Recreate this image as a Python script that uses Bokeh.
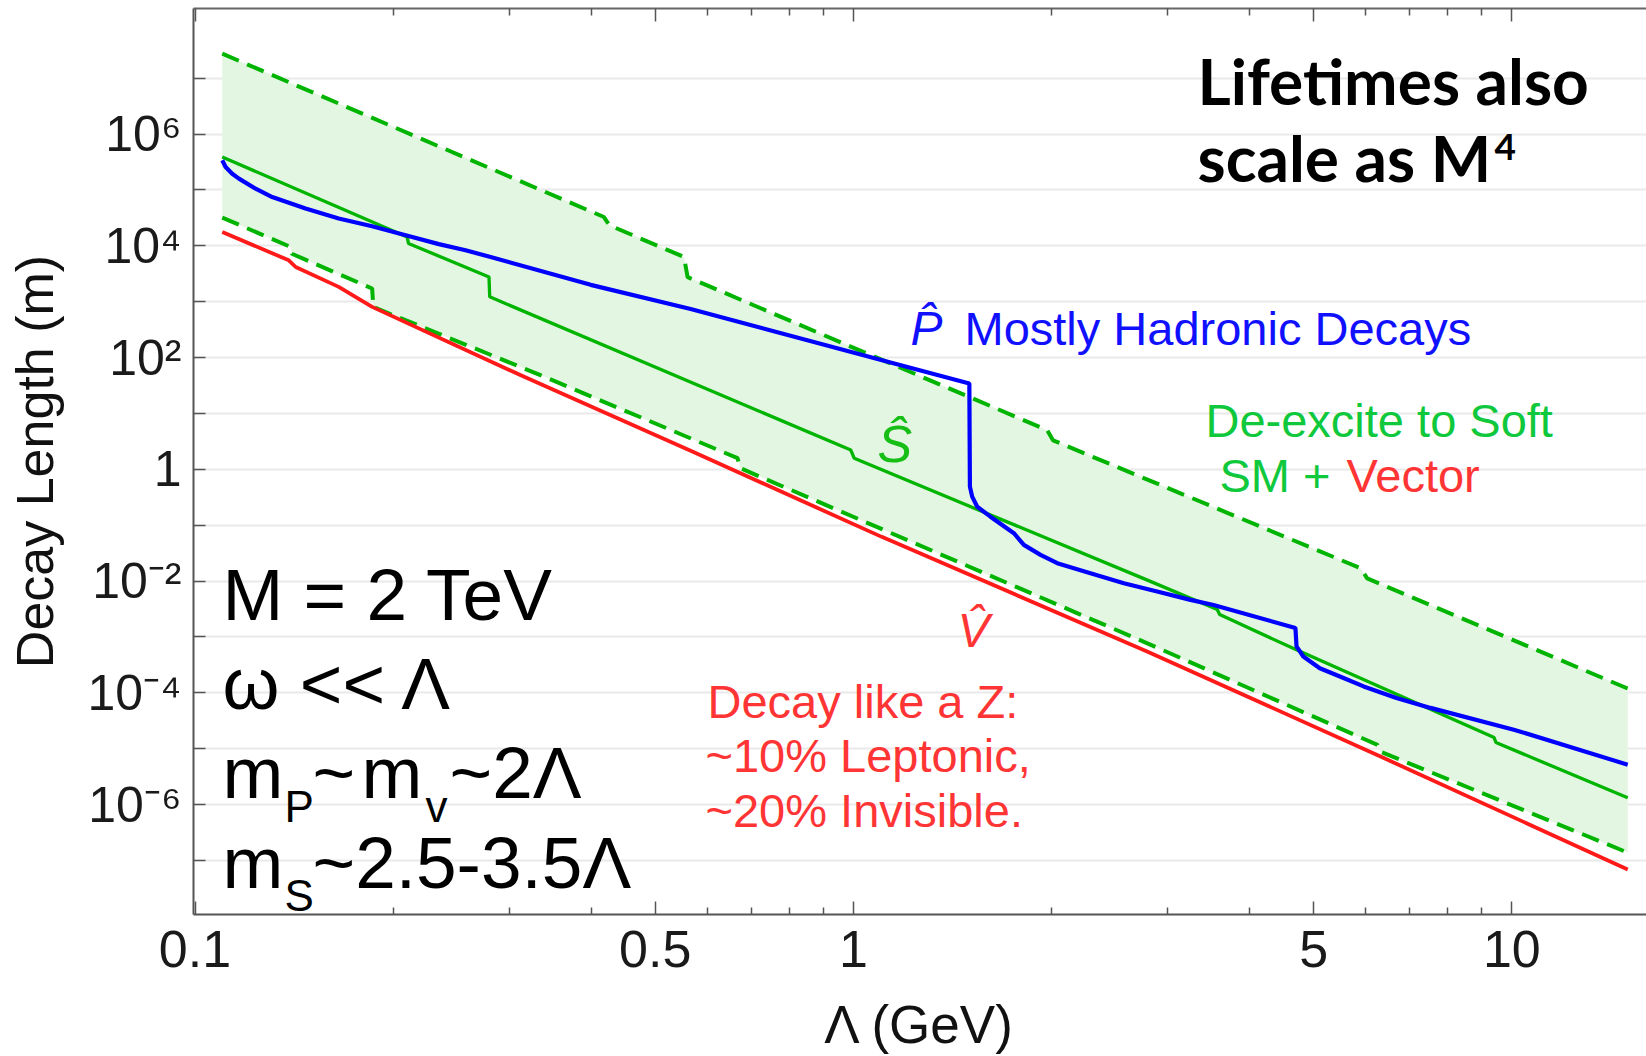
import math
from bokeh.plotting import figure
from bokeh.models import Range1d, FixedTicker, LogAxis, CustomJSTickFormatter
from bokeh.core.properties import value
from bokeh.embed import file_html
from bokeh.resources import INLINE

# ---------------- data ----------------
# Lambda in GeV, decay length in m
lam_upper = [0.11, 0.418, 0.426, 0.553, 0.560, 1.97, 2.01, 5.89, 6.03, 15.0]
len_upper = [2.74e7, 3.27e4, 2.33e4, 6.3e3, 2.75e3, 5.0, 3.3, 1.7e-2, 1.12e-2, 1.19e-4]

lam_lower = [0.11, 0.1396, 0.1403, 0.1858, 0.1866, 0.343, 0.667, 0.673, 2.79, 6.25, 6.31, 15.0]
len_lower = [3.2e4, 9.55e3, 7.2e3, 1.72e3, 8.0e2, 43.0, 1.58, 1.05, 7.76e-4, 1.17e-5, 8.9e-6, 1.38e-7]

lam_s = [0.11, 0.210, 0.211, 0.2796, 0.2803, 0.991, 1.003, 2.79, 3.57, 3.60, 4.69, 9.40, 9.46, 15.0]
len_s = [3.87e5, 1.44e4, 1.1e4, 2.77e3, 1.22e3, 2.21, 1.57, 1.05e-2, 3.09e-3, 2.51e-3,
         6.0e-4, 1.58e-5, 1.29e-5, 1.32e-6]

lam_p = [0.11, 0.1113, 0.1139, 0.1166, 0.1236, 0.1310, 0.1472, 0.1653, 0.1858, 0.2089,
         0.2346, 0.2576, 0.2812, 0.399, 0.566, 1.102, 1.50, 1.503, 1.515, 1.542, 1.615,
         1.753, 1.815, 1.924, 2.040, 2.291, 2.575, 2.893, 3.25, 3.524, 4.692, 4.71, 4.823,
         5.11, 5.482, 5.957, 6.68, 7.526, 10.07, 15.0]
len_p = [3.39e5, 2.57e5, 1.95e5, 1.59e5, 1.05e5, 7.46e4, 4.63e4, 3.07e4, 2.23e4, 1.54e4,
         1.07e4, 8.3e3, 6.3e3, 2.0e3, 740, 90, 34.4, 0.49, 0.324, 0.214, 0.142,
         0.0718, 0.0443, 0.0294, 0.0209, 1.384e-2, 9.16e-3, 6.49e-3, 4.6e-3, 3.72e-3, 1.45e-3,
         6.76e-4, 4.47e-4, 2.75e-4, 1.96e-4, 1.30e-4, 8.05e-5, 5.37e-5, 2.19e-5, 5.18e-6]

lam_v = [0.11, 0.1388, 0.1422, 0.1653, 0.1858, 0.3162, 0.566, 1.102, 2.793, 6.318, 15.0]
len_v = [1.77e4, 5.5e3, 4.17e3, 1.84e3, 807, 45.2, 2.14, 0.0624, 5.5e-4, 7.24e-6, 6.9e-8]

xtick_values = [0.1, 0.5, 1, 5, 10]
xtick_labels = ["0.1", "0.5", "1", "5", "10"]
xminor_values = [0.2, 0.3, 0.4, 0.6, 0.7, 0.8, 0.9, 2, 3, 4, 6, 7, 8, 9]
ytick_exponents = list(range(-7, 8))
ylabel_exponents = [-6, -4, -2, 0, 2, 4, 6]
ylabel_texts = ["10\u207b\u2076", "10\u207b\u2074", "10\u207b\u00b2", "1",
                "10\u00b2", "10\u2074", "10\u2076"]

# ---------------- geometry ----------------
W, H = 1646, 1056
FX0, FX1, FY0, FY1 = 193, 1646, 8, 915
LX0 = -1 + (FX0 - 194.5) / 658.4
LX1 = -1 + (FX1 - 194.5) / 658.4
LY1 = (469.3 - FY0) / 55.94
LY0 = (469.3 - FY1) / 55.94
BASE_SHIFT = 0.355   # compensation of the text baseline placement (fraction of font size)


def px2x(X):
    return 10 ** (LX0 + (X - FX0) / (FX1 - FX0) * (LX1 - LX0))


def px2y(Y):
    return 10 ** (LY1 - (Y - FY0) / (FY1 - FY0) * (LY1 - LY0))


p = figure(width=W, height=H, x_axis_type="log", y_axis_type="log",
           x_range=Range1d(10 ** LX0, 10 ** LX1), y_range=Range1d(10 ** LY0, 10 ** LY1),
           output_backend="svg", toolbar_location=None,
           x_axis_label="\u039b (GeV)", y_axis_label="Decay Length (m)")
p.min_border_left = FX0
p.min_border_right = 0
p.min_border_top = FY0
p.min_border_bottom = H - FY1
p.outline_line_color = None
p.background_fill_color = "white"
p.border_fill_color = "white"

TICK_FONT = "Liberation Sans"
AXIS_COLOR = "#555555"

# x axis
xax = p.xaxis[0]
xax.ticker = FixedTicker(ticks=xtick_values, minor_ticks=xminor_values)
xax.formatter = CustomJSTickFormatter(args=dict(vals=xtick_values, labs=xtick_labels), code="""
for (let i = 0; i < vals.length; i++) { if (Math.abs(tick - vals[i]) < 1e-9 * vals[i] + 1e-12) return labs[i]; }
return "";
""")
# y axis
yax = p.yaxis[0]
yax.ticker = FixedTicker(ticks=[10.0 ** k for k in ytick_exponents], minor_ticks=[])
yax.formatter = CustomJSTickFormatter(args=dict(exps=ylabel_exponents, labs=ylabel_texts), code="""
const k = Math.round(Math.log10(tick));
const i = exps.indexOf(k);
return i >= 0 ? labs[i] : "";
""")

for ax in (xax, yax):
    ax.axis_line_color = AXIS_COLOR
    ax.axis_line_width = 2
    ax.major_tick_line_color = AXIS_COLOR
    ax.minor_tick_line_color = AXIS_COLOR
    ax.major_tick_line_width = 1.5
    ax.minor_tick_line_width = 1.5
    ax.major_tick_out = 0
    ax.minor_tick_out = 0
    ax.major_label_text_font = TICK_FONT
    ax.major_label_text_color = "#1a1a1a"
    ax.axis_label_text_font = TICK_FONT
    ax.axis_label_text_font_style = "normal"
    ax.axis_label_text_color = "#111111"

xax.major_tick_in = 13
xax.minor_tick_in = 7
xax.major_label_text_font_size = "52px"
xax.major_label_standoff = 16
xax.axis_label_text_font_size = "53px"
xax.axis_label_standoff = 25

yax.major_tick_in = 12
yax.minor_tick_in = 0
yax.major_label_text_font_size = "50px"
yax.major_label_standoff = 12
yax.axis_label_text_font_size = "52px"
yax.axis_label_standoff = 20

# top mirror axis (ticks only)
top = LogAxis(ticker=FixedTicker(ticks=xtick_values, minor_ticks=xminor_values))
top.axis_line_color = "#666666"
top.axis_line_width = 2
top.major_tick_line_color = AXIS_COLOR
top.minor_tick_line_color = AXIS_COLOR
top.major_tick_line_width = 1.5
top.minor_tick_line_width = 1.5
top.major_tick_out = 0
top.minor_tick_out = 0
top.major_tick_in = 13
top.minor_tick_in = 7
top.major_label_text_font_size = "0px"
top.major_label_standoff = 0
top.formatter = CustomJSTickFormatter(code="return '';")
p.add_layout(top, "above")

p.xgrid.visible = False
p.ygrid.grid_line_color = "#e9e9e9"
p.ygrid.grid_line_width = 2

# ---------------- band and curves ----------------
GREEN = "#00b400"
BLUE = "#0000ff"
RED = "#ff1a1a"

p.patch(x=lam_upper + lam_lower[::-1], y=len_upper + len_lower[::-1],
        fill_color="#e3f6e2", line_color=None)
p.line(lam_upper, len_upper, line_color=GREEN, line_width=4.0, line_dash="18 9")
p.line(lam_lower, len_lower, line_color=GREEN, line_width=4.0, line_dash="18 9")
p.line(lam_v, len_v, line_color=RED, line_width=3.8)
p.line(lam_s, len_s, line_color=GREEN, line_width=3.3)
p.line(lam_p, len_p, line_color=BLUE, line_width=4.2)


# ---------------- annotations ----------------
def txt(s, X, Y, size, color, font="Liberation Sans", style="normal"):
    p.text(x=[px2x(X)], y=[px2y(Y - BASE_SHIFT * size)], text=[s], text_font=value(font),
           text_font_size=f"{size}px", text_color=color, text_font_style=style,
           text_baseline="alphabetic", text_align="left")


txt("Lifetimes also", 1197, 103, 64, "#000000", font="Lato", style="bold")
txt("scale as M", 1197, 180, 64, "#000000", font="Lato", style="bold")
txt("4", 1494, 160, 37, "#000000", font="Lato", style="bold")

BLUE_T = "#1010ff"
GREEN_T = "#10c83c"
RED_T = "#ff3535"
txt("P\u0302", 910, 345, 48, BLUE_T, style="italic")
txt("Mostly Hadronic Decays", 964, 345, 47, BLUE_T)
txt("S\u0302", 877, 462, 52, "#16be16", style="italic")
txt("De-excite to Soft", 1205, 437, 47, GREEN_T)
txt("SM + ", 1219, 492, 47, GREEN_T)
txt("Vector", 1346, 492, 47, RED_T)
txt("V\u0302", 957, 648, 48, RED_T, style="italic")
txt("Decay like a Z:", 707, 718, 47, RED_T)
txt("~10% Leptonic,", 705, 773, 47, RED_T)
txt("~20% Invisible.", 705, 828, 47, RED_T)

BL = "#000000"
txt("M = 2 TeV", 222, 621, 73, BL)
txt("\u03c9 << \u039b", 222, 710, 73, BL)
txt("m", 222, 799, 73, BL)
txt("P", 284, 823, 44, BL)
txt("~", 312, 799, 73, BL)
txt("m", 361, 799, 73, BL)
txt("v", 425, 823, 44, BL)
txt("~2\u039b", 449, 799, 73, BL)
txt("m", 222, 889, 73, BL)
txt("S", 284, 912, 44, BL)
txt("~2.5-3.5\u039b", 312, 889, 73, BL)

open("out.html", "w").write(file_html(p, INLINE))
